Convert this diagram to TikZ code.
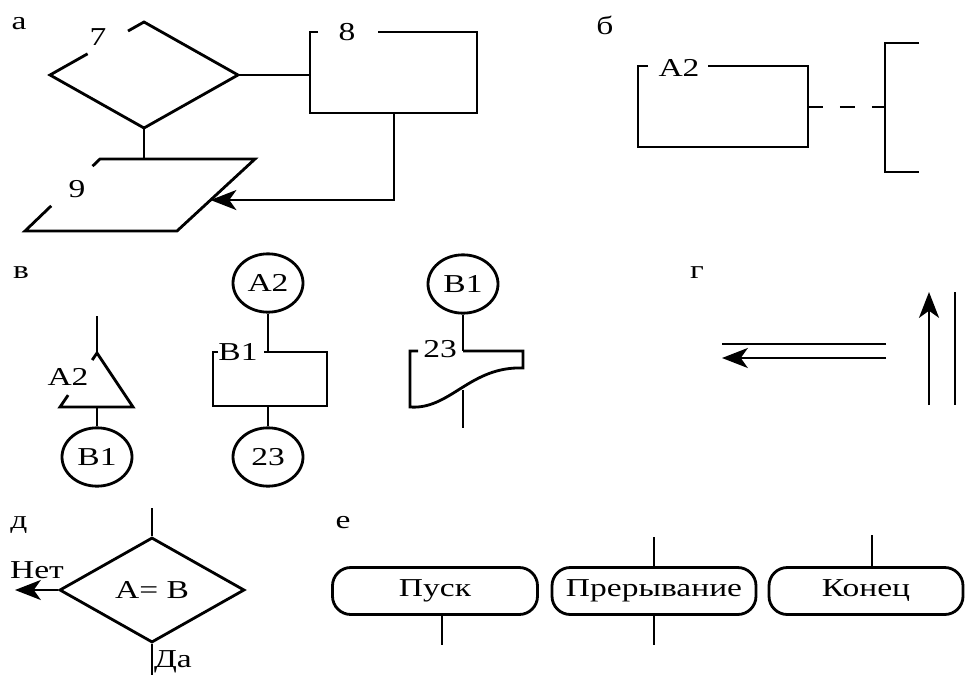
\documentclass[tikz,border=0pt]{standalone}
\usepackage{fontspec}
\setmainfont{Liberation Serif}[FakeStretch=1.3]
\usetikzlibrary{arrows.meta,calc,shapes.geometric}

\tikzset{
  lbl/.style={inner sep=0pt,font=\fontsize{22}{25}\selectfont},
  circ/.style={draw,ellipse,inner sep=0pt,minimum width=2.1cm,minimum height=1.75cm,font=\fontsize{22}{25}\selectfont},
  term/.style={draw,rectangle,rounded corners=0.55cm,inner sep=0pt,minimum height=1.41cm,font=\fontsize{22}{25}\selectfont},
  dia/.style={draw,diamond,inner sep=0pt,minimum width=5.55cm,minimum height=3.15cm,font=\fontsize{22}{25}\selectfont},
  arr/.style={-{Stealth[length=22pt,width=17pt,inset=6pt]}}
}

\begin{document}
\begin{tikzpicture}[x=0.03cm,y=-0.03cm,line width=2.4pt]
        \useasboundingbox (0,0) rectangle (965,675);
        % a
        \node[lbl] (la) at (19,24) {а};
        \coordinate (d7l) at (50,75);
        \coordinate (d7t) at (144,22);
        \coordinate (d7r) at (238,75);
        \coordinate (d7b) at (144,128);
        \draw ($(d7l)!0.4!(d7t)$) -- (d7l) -- (d7b) -- (d7r) -- (d7t) -- ($(d7l)!0.83!(d7t)$); % diamond with gap
        \node[lbl] (n7) at (98,37) {7};
        \coordinate (b8nw) at (310,32);
        \coordinate (b8se) at (477,113);
        \draw (318,32) -- (b8nw) |- (b8se) |- (378,32);
        \node[lbl] (n8) at (347,32) {8};
        \coordinate (p9tl) at (100,159);
        \coordinate (p9tr) at (255,159);
        \coordinate (p9br) at (177,231);
        \coordinate (p9bl) at (25,231);
        \draw ($(p9tl)!0.1!(p9bl)$) -- (p9tl) -- (p9tr) -- (p9br) -- (p9bl) -- ($(p9bl)!0.35!(p9tl)$);
        \node[lbl] (n9) at (77,189) {9};
        \coordinate (p9in) at ($(p9tr)!0.57!(p9br)$);
        \coordinate (b8out) at (394,113);
        \draw (d7r) -- (d7r -| b8nw);
        \draw (d7b) -- (d7b |- p9tl);
        \draw[arr] (b8out) |- (p9in);
        % b
        \node[lbl] (lb) at (605,25) {б};
        \coordinate (bAnw) at (638,66);
        \coordinate (bAse) at (808,147);
        \draw (648,66) -- (bAnw) |- (bAse) |- (708,66);
        \node[lbl] (nA2) at (679,68) {A2};
        \coordinate (bAout) at (808,107);
        \coordinate (brk) at (885,107);
        \draw[dash pattern=on 12.8pt off 14.5pt] (bAout) -- (brk);
        \draw (919,43) -- (885,43) -- (885,172) -- (919,172); % bracket
        % v
        \node[lbl] (lv) at (21,273) {в};
        \coordinate (tA) at (97,353);
        \coordinate (tR) at (133,407);
        \coordinate (tL) at (60,407);
        \draw (97,316) -- (tA);
        \draw ($(tA)!0.13!(tL)$) -- (tA) -- (tR) -- (tL) -- ($(tL)!0.22!(tA)$);
        \node[lbl] (nA2b) at (68,377) {A2};
        \node[circ] (cB1a) at (97,457) {B1};
        \draw (tA |- tR) -- (cB1a);
        \node[circ] (cA2) at (268,283) {A2};
        \draw (218,352) -- (213,352) |- (327,406) |- (264,352);
        \node[lbl] (nB1) at (238,352) {B1};
        \draw (cA2) -- (268,352);
        \node[circ] (c23) at (268,457) {23};
        \draw (268,406) -- (c23);
        \node[circ] (cB1b) at (463,284) {B1};
        \coordinate (sTop) at (463,351);
        \draw (cB1b) -- (sTop);
        \draw (418,351) -- (410,351) -- (410,407) .. controls (450,410) and (470,366) .. (523,368) -- (523,351) -- (sTop);
        \node[lbl] (n23) at (440,349) {23};
        \draw (463,390) -- (463,428);
        % g
        \node[lbl] (lg) at (697,273) {г};
        \draw (886,344) -- (722,344);
        \draw[arr] (886,358) -- (722,358);
        \draw[arr] (929,405) -- (929,292);
        \draw (955,292) -- (955,405);
        % d
        \node[lbl] (ld) at (19,525) {д};
        \node[dia] (dAB) at (152,590) {A= B};
        \draw (152,508) -- (dAB.north);
        \draw[arr] (dAB.west) -- (15,590);
        \node[lbl] (nNo) at (37,570) {Нет};
        \draw (dAB.south) -- (152,675);
        \node[lbl] (nYes) at (173,662) {Да};
        % e
        \node[lbl] (le) at (343,523) {е};
        \foreach \n/\x/\w/\t in {pusk/435/6.15cm/Пуск, prer/654/6.12cm/Прерывание, kon/866/5.82cm/Конец}
        \node[term,minimum width=\w] (\n) at (\x,591) {\t};
        \coordinate (p1) at (442,645);
        \draw (pusk.south -| p1) -- (p1);
        \coordinate (p2) at (654,537);
        \coordinate (p3) at (654,645);
        \draw (p2) -- (prer.north);
        \draw (prer.south) -- (p3);
        \coordinate (p4) at (872,535);
        \draw (p4) -- (p4 |- kon.north);
\end{tikzpicture}
\end{document}
